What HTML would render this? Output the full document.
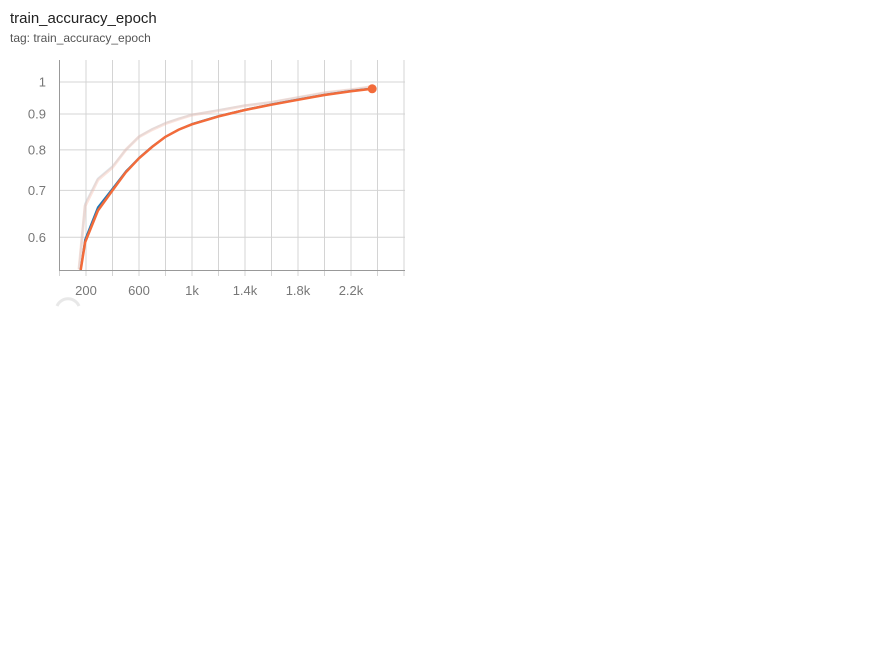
<!DOCTYPE html>
<html><head><meta charset="utf-8"><style>
body{margin:0;width:875px;height:658px;background:#fff;font-family:"Liberation Sans",sans-serif;overflow:hidden;position:relative}
.t{position:absolute;left:10px;top:10px;font-size:15px;color:#212121}
.s{position:absolute;left:10px;top:31px;font-size:12px;color:#555}
</style></head><body>
<div class="t">train_accuracy_epoch</div>
<div class="s">tag: train_accuracy_epoch</div>
<svg id="c" width="875" height="658" style="position:absolute;left:0;top:0"></svg>
<script>
const xTicks=[200,600,1000,1400,1800,2200];
const xTickLabels=["200","600","1k","1.4k","1.8k","2.2k"];
const yTicks=[0.6,0.7,0.8,0.9,1];
const yTickLabels=["0.6","0.7","0.8","0.9","1"];
const steps=[147,193,290,400,500,600,700,800,900,1000,1200,1400,1600,1800,2000,2200,2360];
const smoothOrange=[0.52,0.59,0.655,0.70,0.743,0.778,0.808,0.835,0.855,0.87,0.893,0.912,0.928,0.943,0.958,0.97,0.978];
const smoothBlue=[0.52,0.595,0.662,0.704,0.745,0.779,0.809,0.835,0.855,0.871,0.894,0.913,0.929,0.944,0.959,0.971,0.979];
const rawOrange=[0.54,0.665,0.725,0.755,0.80,0.835,0.855,0.872,0.885,0.897,0.91,0.925,0.935,0.95,0.965,0.975,0.985];
const rawBlue=[0.54,0.67,0.728,0.758,0.80,0.836,0.857,0.874,0.887,0.898,0.912,0.926,0.936,0.951,0.965,0.975,0.984];
const svg=document.getElementById('c');const NS='http://www.w3.org/2000/svg';
const X=v=>59.5+v*0.1325;
const Y=v=>82-Math.log(v)*304;
function mk(t,a,p){const e=document.createElementNS(NS,t);for(const k in a)e.setAttribute(k,a[k]);(p||svg).appendChild(e);return e;}
const clip=mk('clipPath',{id:'cl'});mk('rect',{x:59,y:60,width:347,height:210},clip);
for(let v=0;v<=2600;v+=200){const g=mk('line',{x1:X(v),x2:X(v),y1:60,y2:276,stroke:'#d4d4d4','stroke-width':1});

}
yTicks.forEach((v,i)=>{const g=mk('line',{x1:59,x2:405,y1:Y(v),y2:Y(v),stroke:'#d4d4d4'});


const t=mk('text',{x:46,y:Y(v)+4.5,'text-anchor':'end','font-size':13,fill:'#777'});t.textContent=yTickLabels[i];

});
const ax=mk('line',{x1:59.5,x2:59.5,y1:60,y2:270,stroke:'#999'});


const bx=mk('line',{x1:59,x2:405,y1:270.5,y2:270.5,stroke:'#999'});


xTicks.forEach((v,i)=>{const t=mk('text',{x:X(v),y:295,'text-anchor':'middle','font-size':13,fill:'#777'});t.textContent=xTickLabels[i];

});
function line(arr,col,w,op,name){const d=arr.map((v,i)=>(i?'L':'M')+X(steps[i]).toFixed(1)+','+Y(v).toFixed(1)).join('');
const p=mk('path',{d:d,fill:'none',stroke:col,'stroke-width':w,opacity:op,'clip-path':'url(#cl)','stroke-linejoin':'round'});

}
line(rawBlue,'#a6cee3',2,0.35,'raw-blue-line');
line(rawOrange,'#f4b8a8',3,0.4,'raw-orange-line');
line(smoothBlue,'#1f77b4',2,1,'smoothed-blue-line');
line(smoothOrange,'#f26b3a',2.5,1,'smoothed-orange-line');
const n=steps.length-1;
const dot=mk('circle',{cx:X(steps[n]),cy:Y(smoothOrange[n]),r:4.5,fill:'#f26b3a'});


const gc=mk('path',{d:'M57,306 A12,12 0 0 1 79,306',fill:'none',stroke:'#e8e8e8','stroke-width':3});


</script>
</body></html>
